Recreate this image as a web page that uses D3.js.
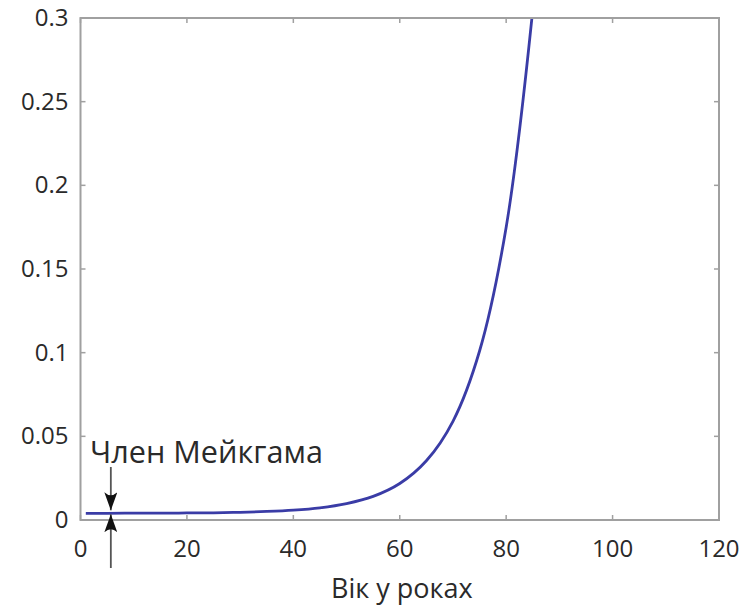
<!DOCTYPE html>
<html><head><meta charset="utf-8">
<script src="https://cdn.jsdelivr.net/npm/d3@7"></script>
<style>body{margin:0;background:#fff}svg{display:block}text{font-family:"Open Sans",sans-serif;fill:#2a2a2a}</style>
</head><body>
<svg id="c" width="745" height="610"></svg>
<script>
const ages = [1, 5, 10, 15, 20, 25, 30, 35, 40, 45, 50, 55, 60, 65, 70, 75, 80, 85, 88];
const mortality = [0.0040, 0.0040, 0.0041, 0.0041, 0.0042, 0.0043, 0.0046, 0.0051, 0.0059, 0.0073, 0.0098, 0.0141, 0.0218, 0.0354, 0.0590, 0.1010, 0.1750, 0.3050, 0.4200];
const xTicks = [0, 20, 40, 60, 80, 100, 120];
const yTicks = [0, 0.05, 0.1, 0.15, 0.2, 0.25, 0.3];
const xTitle = "Вік у роках";
const annotation = "Член Мейкгама";
const annotationAge = 5.7;

const svg = d3.select("#c");
const L = 80.5, R = 719, T = 18, B = 520;
const x = d3.scaleLinear().domain([0, 120]).range([L, R]);
const y = d3.scaleLinear().domain([0, 0.3]).range([B, T]);
const axisColor = "#a0a0a0";

const defs = svg.append("defs");
defs.append("clipPath").attr("id", "clip")
  .append("rect").attr("x", L).attr("y", T).attr("width", R - L).attr("height", B - T);

// curve
const data = ages.map((a, i) => [a, mortality[i]]);
svg.append("path").datum(data)
  .attr("clip-path", "url(#clip)")
  .attr("fill", "none").attr("stroke", "#3a3ca6").attr("stroke-width", 2.8)
  .attr("d", d3.line().x(d => x(d[0])).y(d => y(d[1])).curve(d3.curveCatmullRom.alpha(0.5)));

// frame
svg.append("rect").attr("x", L).attr("y", T).attr("width", R - L).attr("height", B - T)
  .attr("fill", "none").attr("stroke", axisColor).attr("stroke-width", 2);

// ticks (inward, mirrored)
const tk = 5;
xTicks.forEach(v => {
  svg.append("line").attr("x1", x(v)).attr("x2", x(v)).attr("y1", B).attr("y2", B - tk).attr("stroke", axisColor).attr("stroke-width", 1.5);
  svg.append("line").attr("x1", x(v)).attr("x2", x(v)).attr("y1", T).attr("y2", T + tk).attr("stroke", axisColor).attr("stroke-width", 1.5);
  svg.append("text").attr("x", x(v)).attr("y", B + 37).attr("text-anchor", "middle")
    .attr("font-size", 24).text(d3.format("d")(v));
});
yTicks.forEach(v => {
  svg.append("line").attr("x1", L).attr("x2", L + tk).attr("y1", y(v)).attr("y2", y(v)).attr("stroke", axisColor).attr("stroke-width", 1.5);
  svg.append("line").attr("x1", R).attr("x2", R - tk).attr("y1", y(v)).attr("y2", y(v)).attr("stroke", axisColor).attr("stroke-width", 1.5);
  svg.append("text").attr("x", L - 12).attr("y", y(v) + 8).attr("text-anchor", "end")
    .attr("font-size", 24).text(v === 0 ? "0" : String(v));
});

svg.append("text").attr("x", x(60) + 2).attr("y", 598).attr("text-anchor", "middle")
  .attr("font-size", 27).text(xTitle);

// annotation with arrows
const ax = x(annotationAge);
const cy = y(0.0040);
const mk = defs.append("marker").attr("id", "ah")
  .attr("viewBox", "0 0 18 13").attr("refX", 18).attr("refY", 6.5)
  .attr("markerWidth", 18).attr("markerHeight", 13).attr("markerUnits", "userSpaceOnUse")
  .attr("orient", "auto");
mk.append("path").attr("d", "M0,0 Q6,6.5 0,13 L18,6.5 Z").attr("fill", "#111");
svg.append("line").attr("x1", ax).attr("x2", ax).attr("y1", 467).attr("y2", cy - 3)
  .attr("stroke", "#555").attr("stroke-width", 1.8).attr("marker-end", "url(#ah)");
svg.append("line").attr("x1", ax).attr("x2", ax).attr("y1", 568).attr("y2", cy + 1)
  .attr("stroke", "#555").attr("stroke-width", 1.8).attr("marker-end", "url(#ah)");
svg.append("text").attr("x", 90).attr("y", 463).attr("font-size", 31)
  .attr("textLength", 233).attr("lengthAdjust", "spacingAndGlyphs").text(annotation);
</script>
</body></html>
